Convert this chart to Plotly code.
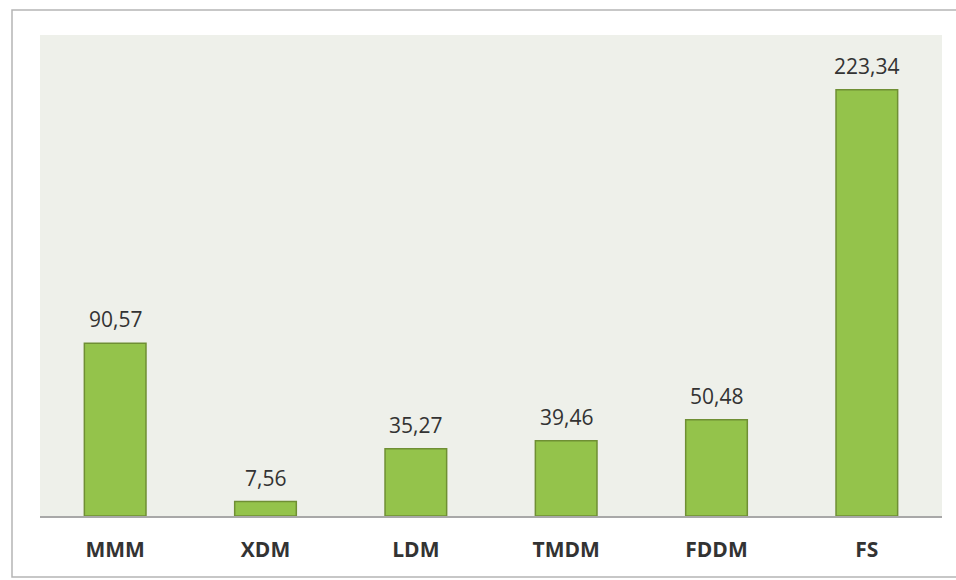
import plotly.graph_objects as go

categories = ["MMM", "XDM", "LDM", "TMDM", "FDDM", "FS"]
values = [90.57, 7.56, 35.27, 39.46, 50.48, 223.34]

W, H = 956, 580
L, R, T, B = 40, 14, 35, 64
pw, ph = W - L - R, H - T - B
FONT = "Open Sans, Liberation Sans, sans-serif"

fig = go.Figure(
    go.Bar(
        x=categories,
        y=values,
        width=0.41,
        marker=dict(color="#94c34b", line=dict(color="#6f8f34", width=1.5)),
    )
)

# value labels above each bar
for cat, val in zip(categories, values):
    fig.add_annotation(
        x=cat, y=val, text=f"{val:.2f}".replace(".", ","),
        showarrow=False, yanchor="bottom", yshift=8,
        font=dict(family=FONT, size=21, color="#333333"),
    )

# thin grey frame on the top, left and bottom of the chart
fx0, fx1 = (12 - L) / pw, (W - L) / pw
fy0, fy1 = -(577 - (T + ph)) / ph, 1 + (T - 10) / ph
fig.add_shape(
    type="path", xref="paper", yref="paper",
    path=f"M {fx1},{fy1} L {fx0},{fy1} L {fx0},{fy0} L {fx1},{fy0}",
    line=dict(color="#b5b5b5", width=1.5), layer="below",
)

fig.update_layout(
    width=W, height=H,
    margin=dict(l=L, r=R, t=T, b=B),
    paper_bgcolor="white",
    plot_bgcolor="#eef0ea",
    showlegend=False,
    bargap=0.59,
    xaxis=dict(
        showline=True, linecolor="#a8a8a8", linewidth=1.5,
        ticks="", showgrid=False, ticklabelstandoff=14,
        tickfont=dict(family=FONT, size=21, color="#333333", weight="bold"),
    ),
    yaxis=dict(range=[0, 252], visible=False, showgrid=False),
)

fig.write_html("out.html")
